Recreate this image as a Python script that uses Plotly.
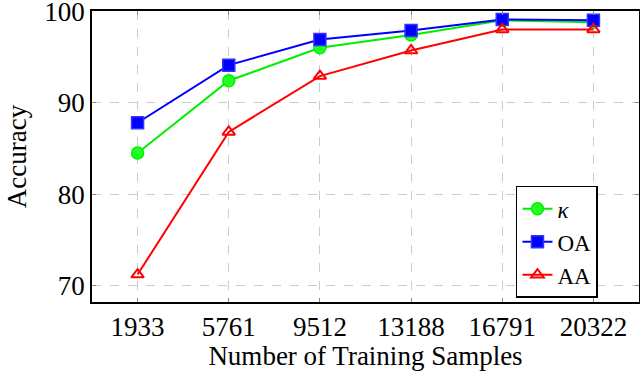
import plotly.graph_objects as go

samples = ["1933", "5761", "9512", "13188", "16791", "20322"]
kappa = [84.5, 92.4, 96.0, 97.4, 99.0, 98.8]
oa = [87.8, 94.1, 96.9, 97.9, 99.1, 99.0]
aa = [71.2, 86.8, 92.9, 95.7, 98.0, 98.0]

font = "Liberation Serif"

fig = go.Figure()
fig.add_trace(go.Scatter(x=samples, y=kappa, mode="lines+markers", name="<i>κ</i>",
                         line=dict(color="#00ee00", width=2),
                         marker=dict(symbol="circle", size=12, color="#22ff22",
                                     line=dict(color="#00ee00", width=1.5))))
fig.add_trace(go.Scatter(x=samples, y=oa, mode="lines+markers", name="OA",
                         line=dict(color="#0000ff", width=2),
                         marker=dict(symbol="square", size=12, color="#0000ff",
                                     line=dict(color="#3333ff", width=1.5))))
fig.add_trace(go.Scatter(x=samples, y=aa, mode="lines+markers", name="AA",
                         line=dict(color="#ff0000", width=2),
                         marker=dict(symbol="triangle-up-open", size=11, color="#ff0000",
                                     line=dict(color="#ff0000", width=2))))

axis_common = dict(showline=True, linecolor="black", linewidth=1.5, mirror="ticks",
                   showgrid=True, gridcolor="#cccccc", griddash="dash", gridwidth=1,
                   ticks="inside", ticklen=4, tickcolor="#888888", zeroline=False,
                   automargin=False, ticklabeloverflow="allow",
                   tickfont=dict(family=font, size=27, color="black"))

fig.update_layout(
    width=640, height=371,
    margin=dict(l=92, r=1, t=11, b=69),
    plot_bgcolor="white", paper_bgcolor="white",
    font=dict(family=font, color="black"),
    xaxis=dict(axis_common, type="category", range=[-0.5, 5.5],
               title=dict(text="Number of Training Samples", font=dict(family=font, size=27), standoff=6)),
    yaxis=dict(axis_common, range=[68.2, 100.02], tickvals=[70, 80, 90, 100],
               title=dict(text="Accuracy", font=dict(family=font, size=27), standoff=10)),
    legend=dict(x=0.925, y=0.399, xanchor="right", yanchor="top",
                bordercolor="black", borderwidth=1.5, bgcolor="white",
                font=dict(family=font, size=23), tracegroupgap=0,
                entrywidth=100, entrywidthmode="pixels"),
    showlegend=True,
)

fig.write_html("out.html", config={"displayModeBar": False},
               post_script="document.body.style.margin='0';")
